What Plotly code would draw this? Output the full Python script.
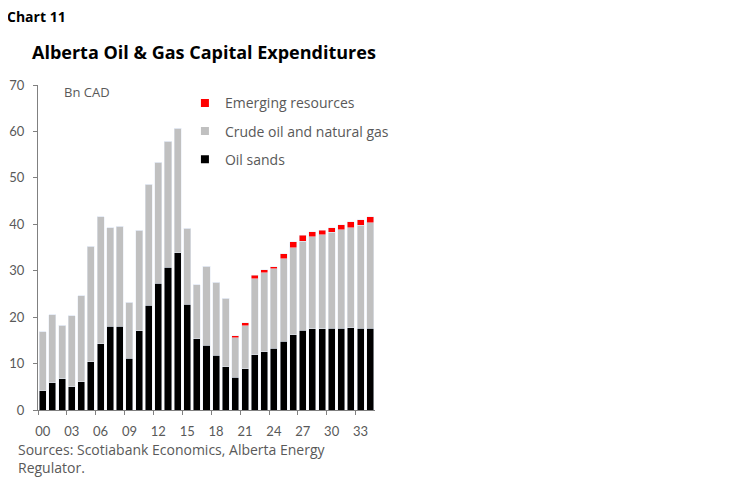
import plotly.graph_objects as go

# Alberta oil & gas capital expenditures, Bn CAD (2025+ forecast)
years = list(range(2000, 2035))
oil_sands = [4.1, 5.9, 6.7, 5.0, 6.1, 10.4, 14.3, 18.0, 18.0, 11.2,
             17.1, 22.6, 27.3, 30.7, 33.9, 22.8, 15.4, 14.0, 11.8, 9.3,
             7.1, 8.9, 11.9, 12.6, 13.3, 14.8, 16.2, 17.2, 17.5, 17.5,
             17.6, 17.6, 17.7, 17.6, 17.6]
crude_gas = [12.8, 14.6, 11.6, 15.3, 18.5, 24.9, 27.3, 21.3, 21.6, 12.0,
             21.6, 26.0, 26.1, 27.2, 26.8, 16.4, 11.6, 17.0, 15.7, 14.8,
             8.5, 9.3, 16.4, 17.0, 17.1, 17.8, 18.7, 19.2, 19.8, 20.2,
             20.7, 21.2, 21.6, 22.2, 22.7]
emerging = [0, 0, 0, 0, 0, 0, 0, 0, 0, 0,
            0, 0, 0, 0, 0, 0, 0, 0, 0, 0,
            0.4, 0.6, 0.7, 0.6, 0.5, 1.1, 1.3, 1.2, 1.1, 1.0,
            1.0, 1.1, 1.2, 1.2, 1.3]
tick_years = [2000, 2003, 2006, 2009, 2012, 2015, 2018, 2021, 2024, 2027, 2030, 2033]
tick_text = ['00', '03', '06', '09', '12', '15', '18', '21', '24', '27', '30', '33']

BLACK = '#000000'
GREY = '#C0C0C0'
RED = '#FF0000'
TXT = '#595959'
FONT = 'Open Sans'

fig = go.Figure()
fig.add_trace(go.Bar(x=years, y=oil_sands, marker_color=BLACK, showlegend=False))
fig.add_trace(go.Bar(x=years, y=crude_gas, marker_color=GREY, showlegend=False))
fig.add_trace(go.Bar(x=years, y=emerging, marker_color=RED, showlegend=False))

# legend-only entries (small square swatches like the original)
for name, col in [('Emerging resources', RED), ('Crude oil and natural gas', GREY), ('Oil sands', BLACK)]:
    fig.add_trace(go.Scatter(x=[None], y=[None], mode='markers', name=name,
                             marker=dict(symbol='square', size=8, color=col), legendgroup=name))

# page body adds an 8px margin, so the figure is 8px smaller than the window
fig.update_layout(
    width=740, height=475,
    margin=dict(l=30, r=373, t=77, b=73),
    barmode='stack', bargap=0.27,
    plot_bgcolor='white', paper_bgcolor='white',
    font=dict(family=FONT, size=13, color=TXT),
    legend=dict(x=0.436, y=0.993, xanchor='left', yanchor='top', bgcolor='rgba(0,0,0,0)',
                font=dict(size=14, color=TXT), itemwidth=30, tracegroupgap=7,
                traceorder='grouped'),
)
fig.update_xaxes(range=[1999.5, 2034.5], tickmode='array', tickvals=tick_years, ticktext=tick_text,
                 ticks='', showline=True, linecolor='#808080', linewidth=1, showgrid=False,
                 automargin=False,
                 tickfont=dict(family='Lato', size=13, color=TXT), ticklabelstandoff=9,
                 minor=dict(tickmode='array', tickvals=[y - 0.5 for y in tick_years],
                            ticks='outside', ticklen=4, tickcolor='#808080', showgrid=False))
fig.update_yaxes(range=[0, 70], dtick=10, ticks='outside', ticklen=4, tickcolor='#808080',
                 showline=True, linecolor='#808080', linewidth=1, showgrid=False, zeroline=False,
                 automargin=False,
                 tickfont=dict(family='Lato', size=13, color=TXT), ticklabelstandoff=6)

fig.add_annotation(text='<b>Chart 11</b>', xref='paper', yref='paper', x=-0.098, y=1.212,
                   xanchor='left', yanchor='middle', showarrow=False,
                   font=dict(family='Open Sans', size=14, color='#000000'))
fig.add_annotation(text='<b>Alberta Oil & Gas Capital Expenditures</b>', xref='paper', yref='paper',
                   x=-0.0237, y=1.1015, xanchor='left', yanchor='middle', showarrow=False,
                   font=dict(family='Open Sans', size=18, color='#000000'))
fig.add_annotation(text='Bn CAD', xref='paper', yref='paper', x=0.0712, y=0.978,
                   xanchor='left', yanchor='middle', showarrow=False, font=dict(size=13, color=TXT))
fig.add_annotation(text='Sources: Scotiabank Economics, Alberta Energy<br>Regulator.',
                   xref='paper', yref='paper', x=-0.0653, y=-0.087, xanchor='left', yanchor='top',
                   align='left', showarrow=False, font=dict(size=14, color=TXT))

fig.write_html('out.html')
